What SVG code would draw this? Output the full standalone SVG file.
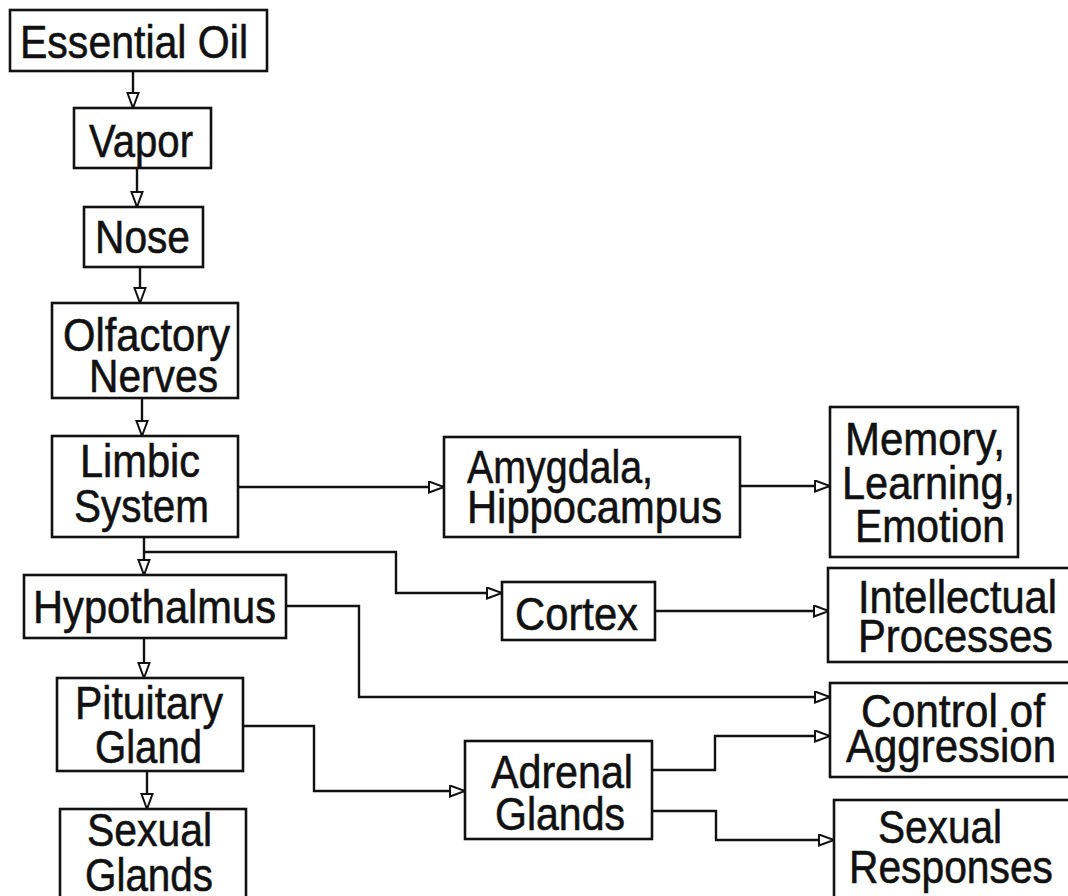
<svg xmlns="http://www.w3.org/2000/svg" width="1068" height="896" viewBox="0 0 1068 896">
<style>
.box{fill:#fff;stroke:#111;stroke-width:2.6}
.t{font-family:"Liberation Sans",Arial,sans-serif;font-size:47px;fill:#111;stroke:#111;stroke-width:0.6}
.c{fill:none;stroke:#111;stroke-width:2.4;marker-end:url(#ah)}
</style>
<defs>
<marker id="ah" markerUnits="userSpaceOnUse" markerWidth="18" markerHeight="14" viewBox="-1 -1 18 14" refX="15" refY="5.5" orient="auto">
<path d="M0,0 L15,5.5 L0,11 Z" fill="#fff" stroke="#111" stroke-width="2"/>
</marker>
</defs>
<rect width="1068" height="896" fill="#fff"/>
<g id="connectors">
<path class="c" d="M133,71 V108"/>
<path class="c" d="M137,168 V207"/>
<path class="c" d="M140,267 V303"/>
<path class="c" d="M142,398 V436"/>
<path class="c" d="M144,537 V575"/>
<path class="c" d="M144,552 H396 V593 H502"/>
<path class="c" d="M238,487 H444"/>
<path class="c" d="M740,486 H830"/>
<path class="c" d="M655,611 H829"/>
<path class="c" d="M286,606 H359 V697 H830"/>
<path class="c" d="M144,638 V678"/>
<path class="c" d="M147,771 V809"/>
<path class="c" d="M243,726 H314 V791 H465"/>
<path class="c" d="M652,770 H715 V736 H830"/>
<path class="c" d="M652,811 H716 V840 H834"/>
</g>
<g id="essential-oil"><rect class="box" x="10" y="10" width="257" height="61"/><text class="t" x="20" y="58" textLength="228" lengthAdjust="spacingAndGlyphs">Essential Oil</text></g>
<g id="vapor"><rect class="box" x="74" y="108" width="137" height="60"/><text class="t" x="89" y="157" textLength="104" lengthAdjust="spacingAndGlyphs">Vapor</text></g>
<g id="nose"><rect class="box" x="84" y="207" width="119" height="60"/><text class="t" x="95" y="253" textLength="95" lengthAdjust="spacingAndGlyphs">Nose</text></g>
<g id="olfactory"><rect class="box" x="52" y="303" width="186" height="95"/><text class="t" x="63" y="351" textLength="167" lengthAdjust="spacingAndGlyphs">Olfactory</text><text class="t" x="89" y="392" textLength="129" lengthAdjust="spacingAndGlyphs">Nerves</text></g>
<g id="limbic"><rect class="box" x="52" y="436" width="186" height="101"/><text class="t" x="80" y="477" textLength="120" lengthAdjust="spacingAndGlyphs">Limbic</text><text class="t" x="74" y="522" textLength="135" lengthAdjust="spacingAndGlyphs">System</text></g>
<g id="hypothalmus"><rect class="box" x="24" y="575" width="262" height="63"/><text class="t" x="33" y="623" textLength="243" lengthAdjust="spacingAndGlyphs">Hypothalmus</text></g>
<g id="pituitary"><rect class="box" x="57" y="678" width="186" height="93"/><text class="t" x="75" y="719" textLength="148" lengthAdjust="spacingAndGlyphs">Pituitary</text><text class="t" x="95" y="763" textLength="107" lengthAdjust="spacingAndGlyphs">Gland</text></g>
<g id="sexual-glands"><rect class="box" x="60" y="809" width="186" height="100"/><text class="t" x="87" y="846" textLength="125" lengthAdjust="spacingAndGlyphs">Sexual</text><text class="t" x="85" y="891" textLength="128" lengthAdjust="spacingAndGlyphs">Glands</text></g>
<g id="amygdala"><rect class="box" x="444" y="437" width="296" height="100"/><text class="t" x="467" y="483" textLength="186" lengthAdjust="spacingAndGlyphs">Amygdala,</text><text class="t" x="467" y="523" textLength="255" lengthAdjust="spacingAndGlyphs">Hippocampus</text></g>
<g id="memory"><rect class="box" x="830" y="407" width="188" height="150"/><text class="t" x="845" y="455" textLength="160" lengthAdjust="spacingAndGlyphs">Memory,</text><text class="t" x="842" y="499" textLength="173" lengthAdjust="spacingAndGlyphs">Learning,</text><text class="t" x="855" y="542" textLength="150" lengthAdjust="spacingAndGlyphs">Emotion</text></g>
<g id="cortex"><rect class="box" x="502" y="582" width="153" height="58"/><text class="t" x="515" y="630" textLength="123" lengthAdjust="spacingAndGlyphs">Cortex</text></g>
<g id="intellectual"><rect class="box" x="828" y="568" width="250" height="94"/><text class="t" x="858" y="613" textLength="199" lengthAdjust="spacingAndGlyphs">Intellectual</text><text class="t" x="858" y="652" textLength="195" lengthAdjust="spacingAndGlyphs">Processes</text></g>
<g id="control"><rect class="box" x="830" y="683" width="248" height="94"/><text class="t" x="861" y="727" textLength="184" lengthAdjust="spacingAndGlyphs">Control of</text><text class="t" x="846" y="762" textLength="210" lengthAdjust="spacingAndGlyphs">Aggression</text></g>
<g id="adrenal"><rect class="box" x="465" y="741" width="187" height="98"/><text class="t" x="491" y="788" textLength="142" lengthAdjust="spacingAndGlyphs">Adrenal</text><text class="t" x="495" y="830" textLength="130" lengthAdjust="spacingAndGlyphs">Glands</text></g>
<g id="sexual-responses"><rect class="box" x="834" y="800" width="244" height="110"/><text class="t" x="878" y="843" textLength="124" lengthAdjust="spacingAndGlyphs">Sexual</text><text class="t" x="849" y="883" textLength="204" lengthAdjust="spacingAndGlyphs">Responses</text></g>
</svg>
